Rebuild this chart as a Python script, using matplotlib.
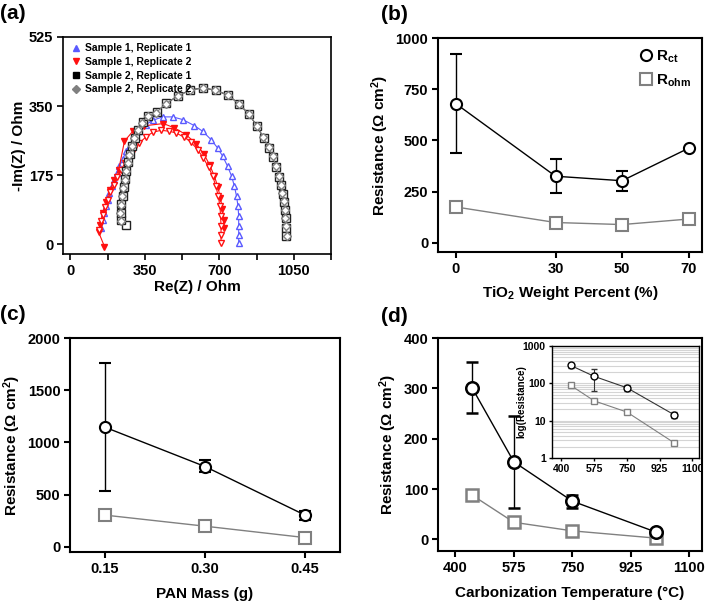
import matplotlib
matplotlib.use("Agg")
import matplotlib.pyplot as plt
from matplotlib.lines import Line2D
import numpy as np

plt.rcParams['font.family'] = ['Liberation Sans', 'DejaVu Sans']
plt.rcParams['font.weight'] = 'bold'
plt.rcParams['axes.labelweight'] = 'bold'
plt.rcParams['mathtext.fontset'] = 'custom'
plt.rcParams['mathtext.rm'] = 'Liberation Sans:bold'
plt.rcParams['mathtext.bf'] = 'Liberation Sans:bold'
plt.rcParams['mathtext.it'] = 'Liberation Sans:bold'

# ---------------- Panel (a) Nyquist data ----------------
s1r1_re = [144, 152, 160, 168, 175, 183, 194, 207, 218, 230, 246, 262, 280, 301, 324, 355, 387,
           434, 481, 528, 582, 622, 661, 692, 716, 739, 758, 771, 781, 788, 791, 791, 791, 791]
s1r1_im = [40.5, 61.7, 78.6, 95.6, 112.5, 129.4, 146.4, 163.3, 180.2, 197.2, 215.8, 235.3, 252.2,
           269.1, 286.1, 303, 314, 322.5, 322.5, 315.7, 300.5, 286, 264.9, 243.7, 222.6, 197.2,
           171.8, 146.4, 121, 95.6, 70.2, 44.8, 23.6, 4]

s1r2_re = [136, 144, 152, 163, 175, 188, 204, 219, 238, 257, 277, 301, 324, 355, 387, 426, 465,
           496, 536, 567, 598, 625, 650, 669, 684, 695, 703, 706, 708, 708, 708]
s1r2_im = [36, 57.5, 74.4, 93.9, 112.5, 131.1, 150.6, 170, 188.7, 205.6, 224.3, 241.2, 256.4,
           271.7, 283.5, 288.6, 286.1, 281.8, 270.8, 258.1, 239.5, 218.3, 194.6, 171.8, 146.4,
           121, 95.6, 70.2, 44.8, 23.6, 4]

s1r2b_re = [160, 133, 139.5, 152, 168, 186, 207, 227, 254, 293, 348, 437, 489, 543, 590, 628,
            655, 677, 693, 705, 714, 720, 723]
s1r2b_im = [-6, 29.5, 49, 78.7, 108, 138, 163, 189, 261, 286, 300, 305.6, 294.6, 277.6, 255,
            228, 200, 172, 145, 117, 89, 62, 41]

s2r1_re = [262, 240, 236, 240, 245, 251, 257, 263, 271, 280, 291, 304, 319, 340, 365, 405, 451,
           506, 564, 624, 683, 743, 793, 840, 877, 908, 933, 952, 967, 980, 989, 997, 1003, 1008,
           1012, 1014, 1015]
s2r1_im = [49, 60, 80, 102, 123, 144, 165, 186, 207, 228, 249, 270, 290, 309, 326, 334, 357, 376,
           391, 396, 390, 377, 355, 329, 299, 269, 244, 221, 196, 170, 149, 128, 107, 86, 66, 42, 21]

s2r2_re = [238, 233, 238, 243, 249, 255, 261, 269, 277, 288, 301, 316, 337, 363, 402, 449, 504,
           562, 622, 681, 741, 791, 838, 876, 907, 932, 951, 966, 979, 988, 996, 1002, 1007, 1010,
           1013, 1016]
s2r2_im = [57.5, 78.6, 99.8, 121, 142.1, 163.3, 184.5, 205.6, 226.8, 248, 269.1, 288.6, 307.2,
           324.2, 332.6, 356.3, 375, 390.2, 396.1, 390.2, 377.5, 355.5, 330.1, 300.5, 270.8,
           245.4, 222.6, 197.2, 171.8, 150.6, 129.4, 108.3, 87.1, 65.9, 44.8, 19.4]

legend_a = ["Sample 1, Replicate 1", "Sample 1, Replicate 2",
            "Sample 2, Replicate 1", "Sample 2, Replicate 2"]
a_xticks = [0, 350, 700, 1050]
a_yticks = [0, 175, 350, 525]

# ---------------- Panel (b) ----------------
tio2 = [0, 30, 50, 70]
b_rct = [680, 325, 303, 462]
b_rct_lo = [440, 243, 252, 462]
b_rct_hi = [920, 407, 350, 462]
b_rohm = [175, 99, 89, 116]

# ---------------- Panel (c) ----------------
pan = [0.15, 0.30, 0.45]
c_rct = [1146, 770, 305]
c_rct_lo = [536, 716, 262]
c_rct_hi = [1765, 828, 345]
c_rohm = [305, 199, 90]

# ---------------- Panel (d) ----------------
temp = [450, 575, 750, 1000]
d_rct = [301, 154, 76, 14.6]
d_rct_lo = [252, 63, 63, 12]
d_rct_hi = [352, 246, 89, 17]
d_rohm = [88, 34, 17, 2.6]
d_ticks = [400, 575, 750, 925, 1100]

W, H = 709, 602
fig = plt.figure(figsize=(W / 100, H / 100), dpi=100)


def box(l, r, t, b):
    return [l / W, 1 - b / H, (r - l) / W, (b - t) / H]


def style(ax, lw=1.5, fs=10.5):
    for s in ax.spines.values():
        s.set_linewidth(lw)
    ax.tick_params(direction='out', length=4, width=lw, labelsize=fs, pad=3)
    for lab in ax.get_xticklabels() + ax.get_yticklabels():
        lab.set_fontweight('bold')


GRAY = '#808080'
BLUE = '#5a5aff'
RED = '#ff1010'

# ---- (a)
axa = fig.add_axes(box(63, 331, 37, 254))
axa.plot(s1r1_re, s1r1_im, color=BLUE, lw=0.8, marker='^', ms=5, mfc='white', mec=BLUE, mew=1.0)
axa.plot(s1r2b_re, s1r2b_im, color=RED, lw=0.8, marker='v', ms=4.5, mfc=RED, mec=RED)
axa.plot(s1r2_re, s1r2_im, color=RED, lw=0.8, marker='v', ms=5, mfc='white', mec=RED, mew=1.0)
axa.plot(s2r1_re, s2r1_im, color='black', lw=0.8, marker='s', ms=5.5, mfc='white', mec='#222222', mew=1.0)
axa.plot(s2r2_re, s2r2_im, color=GRAY, lw=0.8, marker='D', ms=4, mfc='white', mec=GRAY, mew=1.0)
axa.set_xlim(-35, 1220)
axa.set_ylim(-25, 525)
axa.set_xticks(a_xticks)
axa.set_xticks([175, 525, 875, 1225], minor=True)
axa.set_yticks(a_yticks)
axa.set_xlabel("Re(Z) / Ohm", fontsize=11, labelpad=2)
axa.set_ylabel("-Im(Z) / Ohm", fontsize=11, labelpad=2)
style(axa, lw=1.2)
axa.tick_params(which='minor', direction='out', length=4, width=1.2)
handles = [
    Line2D([], [], ls='none', marker='^', color=BLUE, ms=5),
    Line2D([], [], ls='none', marker='v', color=RED, ms=5),
    Line2D([], [], ls='none', marker='s', color='black', ms=5),
    Line2D([], [], ls='none', marker='D', color=GRAY, ms=4),
]
axa.legend(handles, legend_a, loc='upper left', frameon=False,
           handletextpad=0.3, labelspacing=0.35, borderaxespad=0.2, handlelength=1.2,
           prop={'weight': 'bold', 'size': 7.5})

# ---- (b)
axb = fig.add_axes(box(438, 702, 38, 252))
axb.errorbar(tio2, b_rct,
             yerr=[np.array(b_rct) - np.array(b_rct_lo), np.array(b_rct_hi) - np.array(b_rct)],
             color='black', lw=1.0, marker='o', ms=8, mfc='white', mec='black', mew=1.5,
             capsize=4, elinewidth=1.0, capthick=1.0, zorder=3)
axb.plot(tio2, b_rohm, color=GRAY, lw=1.0, marker='s', ms=8, mfc='white', mec=GRAY, mew=1.5)
axb.set_xlim(-5.3, 74)
axb.set_ylim(-45, 1000)
axb.set_xticks(tio2)
axb.set_yticks([0, 250, 500, 750, 1000])
axb.set_xlabel(r"TiO$_\mathbf{2}$ Weight Percent (%)", fontsize=11, labelpad=6)
axb.set_ylabel("Resistance (Ω cm$^\\mathbf{2}$)", fontsize=11, labelpad=3)
style(axb)
hb = [Line2D([], [], ls='none', marker='o', ms=8, mfc='white', mec='black', mew=1.5),
      Line2D([], [], ls='none', marker='s', ms=8, mfc='white', mec=GRAY, mew=1.5)]
axb.legend(hb, [r"R$_\mathbf{ct}$", r"R$_\mathbf{ohm}$"], loc='upper right', frameon=False,
           prop={'weight': 'bold', 'size': 11}, handletextpad=0.1, handlelength=1.2,
           borderaxespad=0.3, labelspacing=0.5)

# ---- (c)
axc = fig.add_axes(box(70, 340, 338, 552))
axc.errorbar(pan, c_rct,
             yerr=[np.array(c_rct) - np.array(c_rct_lo), np.array(c_rct_hi) - np.array(c_rct)],
             color='black', lw=1.0, marker='o', ms=8, mfc='white', mec='black', mew=1.5,
             capsize=4, elinewidth=1.0, capthick=1.0, zorder=3)
axc.plot(pan, c_rohm, color=GRAY, lw=1.0, marker='s', ms=8, mfc='white', mec=GRAY, mew=1.5)
axc.set_xlim(0.0975, 0.5025)
axc.set_ylim(-48, 2000)
axc.set_xticks(pan)
axc.set_xticklabels(["%.2f" % v for v in pan])
axc.set_yticks([0, 500, 1000, 1500, 2000])
axc.set_xlabel("PAN Mass (g)", fontsize=11, labelpad=8)
axc.set_ylabel("Resistance (Ω cm$^\\mathbf{2}$)", fontsize=11, labelpad=3)
style(axc)

# ---- (d)
axd = fig.add_axes(box(438, 702, 338, 551))
axd.errorbar(temp, d_rct,
             yerr=[np.array(d_rct) - np.array(d_rct_lo), np.array(d_rct_hi) - np.array(d_rct)],
             color='black', lw=1.0, marker='o', ms=9, mfc='white', mec='black', mew=1.8,
             capsize=4, elinewidth=1.0, capthick=1.0, zorder=3)
axd.plot(temp, d_rohm, color=GRAY, lw=1.0, marker='s', ms=9, mfc='white', mec=GRAY, mew=1.8)
axd.set_xlim(348, 1138)
axd.set_ylim(-23, 400)
axd.set_xticks(d_ticks)
axd.set_yticks([0, 100, 200, 300, 400])
axd.set_xlabel("Carbonization Temperature (°C)", fontsize=11, labelpad=8)
axd.set_ylabel("Resistance (Ω cm$^\\mathbf{2}$)", fontsize=11, labelpad=3)
style(axd)

# inset
axi = fig.add_axes(box(552, 699, 346, 458))
axi.set_yscale('log')
axi.set_ylim(1, 1000)
axi.set_xlim(350, 1135)
axi.yaxis.grid(True, which='both', color='#d4d4d4', lw=0.8)
axi.set_axisbelow(True)
axi.errorbar(temp, d_rct,
             yerr=[np.array(d_rct) - np.array(d_rct_lo), np.array(d_rct_hi) - np.array(d_rct)],
             color='#333333', lw=0.8, marker='o', ms=5, mfc='white', mec='black', mew=1.0,
             capsize=2.5, elinewidth=0.8, capthick=0.8, zorder=3)
axi.plot(temp, d_rohm, color=GRAY, lw=0.8, marker='s', ms=5, mfc='white', mec=GRAY, mew=1.0, zorder=3)
axi.set_xticks(d_ticks)
axi.set_yticks([1, 10, 100, 1000])
axi.set_yticklabels(["1", "10", "100", "1000"])
axi.yaxis.set_minor_formatter(matplotlib.ticker.NullFormatter())
axi.tick_params(which='minor', left=False)
axi.set_ylabel("log(Resistance)", fontsize=7)
axi.yaxis.set_label_coords(-0.175, 0.5)
for s in axi.spines.values():
    s.set_linewidth(1.0)
axi.tick_params(direction='out', length=2.5, width=1.0, labelsize=7.5, pad=2)
for lab in axi.get_xticklabels() + axi.get_yticklabels():
    lab.set_fontweight('bold')

# panel labels
for txt, px, py in [("(a)", 0, 4), ("(b)", 381, 5), ("(c)", 0, 305), ("(d)", 381, 307)]:
    fig.text(px / W, 1 - py / H, txt, fontsize=15, fontweight='bold', va='top', ha='left')

fig.savefig("out.png", dpi=100)
